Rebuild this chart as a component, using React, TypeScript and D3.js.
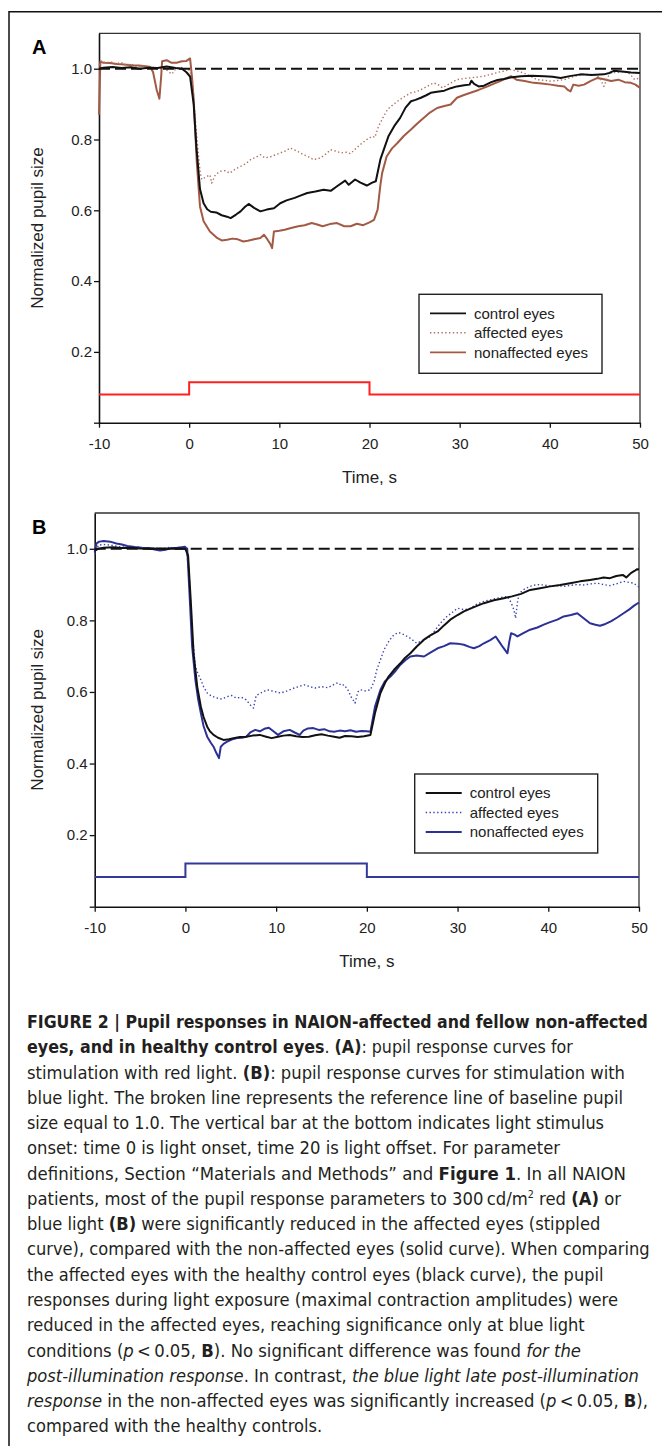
import React, { useEffect, useRef } from 'react';
import * as d3 from 'd3';

type Pt = [number, number];

// axis ticks
const xTicks = [-10, 0, 10, 20, 30, 40, 50];
const yTicks = [0, 0.2, 0.4, 0.6, 0.8, 1.0];
const legendLabels = ['control eyes', 'affected eyes', 'nonaffected eyes'];

// light stimulus trace (step after each time)
const stimTimes = [-10, 0, 20, 50];
const stimLevelsA = [0.08, 0.114, 0.08, 0.08];
const stimLevelsB = [0.083, 0.121, 0.083, 0.083];

// panel A, red light
const controlA: Pt[] = [
  [-10, 1.0], [-9.5, 1.003], [-8.5, 1.005], [-7.5, 1.002], [-6.5, 1.004], [-5.5, 1.0], [-4.5, 1.003],
  [-3.5, 1.002], [-2.5, 1.006], [-1.5, 1.002], [-0.8, 1.0], [-0.3, 0.99], [0.1, 0.978], [0.5, 0.9],
  [0.8, 0.78], [1.2, 0.66], [1.6, 0.62], [2.0, 0.603], [2.4, 0.596], [3.0, 0.594], [3.6, 0.586],
  [4.2, 0.582], [4.6, 0.578], [5.2, 0.588], [5.7, 0.597], [6.2, 0.61], [6.6, 0.618], [7.2, 0.607],
  [7.9, 0.597], [8.6, 0.602], [9.4, 0.606], [10.1, 0.62], [10.8, 0.628], [11.7, 0.635], [12.4, 0.642],
  [13.1, 0.649], [14.0, 0.653], [14.9, 0.658], [15.7, 0.655], [16.4, 0.668], [17.3, 0.684], [17.7, 0.672],
  [18.4, 0.687], [19.0, 0.678], [19.7, 0.67], [20.3, 0.678], [20.7, 0.682], [21.2, 0.743], [21.7, 0.78],
  [22.1, 0.809], [22.8, 0.84], [23.4, 0.861], [24.0, 0.89], [24.6, 0.908], [25.1, 0.912], [25.7, 0.918],
  [26.3, 0.925], [26.8, 0.932], [27.5, 0.935], [28.3, 0.938], [29.0, 0.945], [29.7, 0.95], [30.5, 0.953],
  [31.1, 0.955], [31.3, 0.966], [31.6, 0.957], [32.1, 0.95], [32.7, 0.952], [33.5, 0.962], [34.2, 0.968],
  [34.9, 0.971], [35.8, 0.976], [36.8, 0.979], [38.0, 0.98], [39.4, 0.979], [40.3, 0.977], [41.2, 0.974],
  [42.2, 0.979], [43.4, 0.984], [44.6, 0.982], [46.0, 0.984], [46.6, 0.988], [47.1, 0.994], [48.0, 0.992],
  [49.0, 0.989], [50, 0.988],
];

const affectedA: Pt[] = [
  [-10, 1.01], [-9.7, 1.022], [-9.2, 1.016], [-8.7, 1.02], [-8.2, 1.012], [-7.6, 1.018], [-7.0, 1.01],
  [-6.4, 1.013], [-5.8, 1.005], [-5.2, 1.009], [-4.6, 1.0], [-4.0, 1.004], [-3.4, 0.998], [-2.8, 1.003],
  [-2.2, 0.99], [-1.9, 0.985], [-1.5, 1.0], [-0.9, 1.004], [-0.4, 1.0], [0.1, 0.995], [0.4, 0.95],
  [0.8, 0.82], [1.2, 0.71], [1.4, 0.687], [1.9, 0.695], [2.3, 0.7], [2.5, 0.677], [2.9, 0.7], [3.4, 0.71],
  [4.0, 0.712], [4.5, 0.705], [5.1, 0.716], [5.7, 0.724], [6.3, 0.732], [6.8, 0.743], [7.4, 0.75],
  [7.9, 0.757], [8.4, 0.748], [9.1, 0.752], [10.1, 0.762], [10.7, 0.768], [11.2, 0.776], [11.9, 0.768],
  [12.7, 0.757], [13.3, 0.75], [13.8, 0.743], [14.6, 0.748], [15.2, 0.76], [15.7, 0.771], [16.3, 0.767],
  [16.8, 0.762], [17.4, 0.764], [17.9, 0.76], [18.5, 0.775], [19.0, 0.786], [19.7, 0.8], [20.3, 0.809],
  [20.6, 0.806], [21.0, 0.837], [21.5, 0.862], [22.0, 0.885], [22.6, 0.898], [23.1, 0.908], [23.8, 0.92],
  [24.6, 0.932], [25.2, 0.935], [25.7, 0.941], [26.4, 0.95], [27.1, 0.96], [27.6, 0.955], [28.1, 0.946],
  [28.9, 0.958], [29.7, 0.969], [30.4, 0.972], [31.2, 0.974], [32.1, 0.977], [32.7, 0.979], [33.6, 0.985],
  [34.3, 0.99], [34.9, 0.993], [35.6, 0.998], [36.3, 0.994], [37.1, 0.988], [37.9, 0.978], [38.6, 0.969],
  [39.4, 0.967], [40.1, 0.965], [40.9, 0.967], [41.6, 0.969], [42.4, 0.976], [43.1, 0.981], [43.8, 0.984],
  [44.9, 0.984], [45.5, 0.975], [46.0, 0.95], [46.4, 0.976], [46.8, 0.988], [47.5, 0.99], [48.3, 0.993],
  [48.9, 0.985], [49.4, 0.969], [50, 0.974],
];

const nonaffectedA: Pt[] = [
  [-10, 0.87], [-9.85, 1.02], [-9.5, 1.017], [-8.8, 1.016], [-8.0, 1.013], [-7.2, 1.012], [-6.4, 1.01],
  [-5.6, 1.009], [-4.8, 1.007], [-4.3, 1.005], [-4.0, 0.99], [-3.6, 0.94], [-3.3, 0.915], [-3.1, 0.98],
  [-3.0, 1.021], [-2.5, 1.024], [-2.0, 1.017], [-1.4, 1.017], [-0.8, 1.021], [-0.3, 1.022], [0.1, 1.029],
  [0.3, 0.98], [0.48, 0.922], [0.85, 0.734], [1.2, 0.611], [1.6, 0.569], [2.3, 0.54], [3.1, 0.522],
  [3.6, 0.515], [4.2, 0.517], [4.8, 0.52], [5.4, 0.518], [6.0, 0.512], [6.5, 0.514], [7.2, 0.518],
  [7.9, 0.522], [8.3, 0.531], [8.7, 0.517], [9.0, 0.505], [9.2, 0.493], [9.4, 0.54], [10.0, 0.542],
  [10.6, 0.545], [11.3, 0.55], [12.1, 0.555], [12.8, 0.558], [13.6, 0.564], [14.2, 0.56], [14.8, 0.555],
  [15.6, 0.561], [16.4, 0.564], [17.2, 0.555], [17.9, 0.555], [18.6, 0.562], [19.3, 0.558], [20.0, 0.566],
  [20.5, 0.573], [20.9, 0.602], [21.2, 0.67], [21.4, 0.705], [21.9, 0.752], [22.5, 0.775], [23.1, 0.79],
  [23.8, 0.81], [24.6, 0.828], [25.3, 0.845], [26.0, 0.861], [26.7, 0.876], [27.5, 0.889], [28.2, 0.894],
  [29.0, 0.899], [29.7, 0.918], [30.4, 0.925], [31.2, 0.932], [32.1, 0.94], [33.1, 0.95], [33.8, 0.958],
  [34.5, 0.965], [35.1, 0.972], [35.7, 0.979], [36.3, 0.969], [37.2, 0.965], [38.2, 0.96], [39.1, 0.958],
  [40.1, 0.955], [40.9, 0.952], [41.6, 0.95], [42.0, 0.94], [42.3, 0.936], [42.6, 0.955], [43.2, 0.952],
  [43.8, 0.955], [44.5, 0.965], [45.3, 0.974], [46.0, 0.97], [46.8, 0.965], [47.6, 0.969], [48.3, 0.962],
  [49.0, 0.96], [49.5, 0.955], [50, 0.946],
];

// panel B, blue light
const controlB: Pt[] = [
  [-10, 0.995], [-9.6, 1.0], [-9, 1.003], [-8, 1.004], [-7, 1.002], [-6, 1.003], [-5, 1.001], [-4, 1.0],
  [-3, 1.001], [-2, 1.0], [-1, 1.001], [0, 1.0], [0.3, 0.98], [0.6, 0.85], [0.9, 0.708], [1.3, 0.615],
  [1.7, 0.559], [2.0, 0.53], [2.4, 0.503], [2.7, 0.49], [3.1, 0.48], [3.6, 0.472], [4.2, 0.466],
  [4.8, 0.468], [5.3, 0.471], [6.0, 0.474], [6.7, 0.475], [7.4, 0.478], [8.2, 0.48], [8.9, 0.475],
  [9.5, 0.471], [10.2, 0.475], [10.8, 0.478], [11.5, 0.48], [12.2, 0.476], [12.9, 0.474], [13.6, 0.475],
  [14.3, 0.479], [15.0, 0.482], [15.7, 0.478], [16.4, 0.475], [17.0, 0.472], [17.6, 0.477], [18.3, 0.476],
  [19.0, 0.474], [19.7, 0.476], [20.4, 0.48], [20.9, 0.541], [21.5, 0.597], [22.0, 0.625], [22.4, 0.643],
  [23.0, 0.662], [23.7, 0.68], [24.2, 0.695], [24.8, 0.708], [25.5, 0.727], [26.3, 0.746], [27.0, 0.758],
  [27.8, 0.769], [28.5, 0.786], [29.2, 0.802], [30.0, 0.815], [30.7, 0.825], [31.8, 0.837], [32.9, 0.848],
  [34.0, 0.856], [35.1, 0.862], [36.0, 0.867], [37.0, 0.874], [38.0, 0.885], [39.1, 0.89], [40.2, 0.895],
  [41.3, 0.899], [42.4, 0.904], [43.5, 0.909], [44.6, 0.913], [45.4, 0.916], [46.1, 0.92], [46.8, 0.918],
  [47.5, 0.924], [48.2, 0.927], [48.6, 0.92], [49.1, 0.932], [49.5, 0.938], [49.8, 0.943], [50, 0.942],
];

const affectedB: Pt[] = [
  [-10, 0.985], [-9.6, 1.01], [-9.0, 1.012], [-8.2, 1.01], [-7.4, 1.006], [-6.6, 1.004], [-5.8, 1.003],
  [-5.0, 1.005], [-4.2, 1.0], [-3.4, 1.002], [-2.6, 1.0], [-1.8, 1.004], [-1.0, 1.0], [-0.3, 1.002],
  [0.1, 1.005], [0.4, 0.93], [0.8, 0.75], [1.1, 0.671], [1.4, 0.65], [1.7, 0.634], [2.0, 0.615],
  [2.4, 0.597], [2.9, 0.588], [3.5, 0.583], [4.0, 0.58], [4.6, 0.587], [5.1, 0.59], [5.6, 0.583],
  [6.2, 0.585], [6.7, 0.578], [7.1, 0.565], [7.5, 0.555], [7.8, 0.59], [8.3, 0.597], [9.0, 0.606],
  [9.7, 0.602], [10.5, 0.597], [11.2, 0.603], [12.0, 0.611], [12.6, 0.616], [13.1, 0.62], [13.7, 0.615],
  [14.3, 0.611], [15.0, 0.615], [15.7, 0.612], [16.3, 0.62], [16.8, 0.626], [17.2, 0.618], [17.5, 0.62],
  [17.9, 0.606], [18.3, 0.585], [18.7, 0.569], [19.0, 0.6], [19.3, 0.606], [19.8, 0.603], [20.4, 0.606],
  [20.8, 0.63], [21.1, 0.662], [21.5, 0.69], [21.9, 0.718], [22.5, 0.745], [23.0, 0.76], [23.5, 0.766],
  [24.1, 0.76], [24.8, 0.75], [25.5, 0.736], [26.2, 0.745], [27.0, 0.755], [27.6, 0.775], [28.1, 0.792],
  [28.8, 0.81], [29.4, 0.822], [30.0, 0.834], [30.7, 0.83], [31.3, 0.832], [32.1, 0.845], [32.9, 0.853],
  [33.7, 0.858], [34.4, 0.862], [35.0, 0.865], [35.5, 0.867], [35.9, 0.85], [36.2, 0.83], [36.4, 0.806],
  [36.6, 0.85], [36.8, 0.876], [37.4, 0.888], [38.0, 0.895], [38.7, 0.9], [39.5, 0.899], [40.3, 0.895],
  [41.0, 0.897], [41.7, 0.895], [42.5, 0.898], [43.2, 0.9], [43.9, 0.899], [44.7, 0.902], [45.4, 0.904],
  [46.1, 0.9], [46.8, 0.897], [47.6, 0.903], [48.3, 0.909], [48.9, 0.906], [49.4, 0.904], [50, 0.893],
];

const nonaffectedB: Pt[] = [
  [-10, 0.99], [-9.8, 1.015], [-9.5, 1.02], [-9.0, 1.022], [-8.3, 1.02], [-7.6, 1.015], [-7.0, 1.012],
  [-6.4, 1.008], [-5.6, 1.005], [-4.8, 1.003], [-4.0, 1.002], [-3.4, 0.998], [-2.8, 0.995], [-2.2, 0.997],
  [-1.6, 1.002], [-1.0, 1.002], [-0.5, 1.004], [-0.1, 1.006], [0.2, 1.0], [0.5, 0.85], [0.74, 0.727],
  [1.1, 0.634], [1.4, 0.58], [1.7, 0.541], [2.0, 0.505], [2.4, 0.475], [2.8, 0.458], [3.1, 0.447],
  [3.4, 0.43], [3.7, 0.415], [3.9, 0.447], [4.2, 0.455], [4.6, 0.461], [5.1, 0.467], [5.7, 0.471],
  [6.2, 0.472], [6.7, 0.475], [7.2, 0.488], [7.7, 0.494], [8.2, 0.49], [8.7, 0.497], [9.2, 0.5],
  [9.7, 0.49], [10.2, 0.48], [10.8, 0.49], [11.5, 0.494], [12.1, 0.486], [12.6, 0.48], [13.0, 0.492],
  [13.5, 0.498], [14.1, 0.499], [14.7, 0.494], [15.3, 0.496], [15.9, 0.49], [16.4, 0.489], [17.0, 0.492],
  [17.6, 0.49], [18.2, 0.493], [18.8, 0.489], [19.4, 0.491], [20.0, 0.49], [20.4, 0.489], [20.9, 0.559],
  [21.5, 0.606], [22.0, 0.63], [22.6, 0.643], [23.2, 0.66], [23.7, 0.676], [24.3, 0.69], [24.8, 0.699],
  [25.5, 0.702], [26.3, 0.699], [27.0, 0.71], [27.8, 0.722], [28.5, 0.728], [29.2, 0.736], [30.0, 0.735],
  [30.7, 0.732], [31.3, 0.726], [31.8, 0.722], [32.4, 0.728], [32.9, 0.736], [33.6, 0.745], [34.2, 0.755],
  [34.6, 0.74], [35.0, 0.725], [35.5, 0.708], [35.7, 0.74], [35.9, 0.764], [36.3, 0.76], [36.6, 0.755],
  [37.3, 0.765], [38.0, 0.774], [38.8, 0.78], [39.5, 0.788], [40.2, 0.795], [41.0, 0.802], [41.7, 0.811],
  [42.5, 0.815], [43.2, 0.82], [43.9, 0.806], [44.6, 0.792], [45.2, 0.788], [45.7, 0.785], [46.3, 0.79],
  [46.9, 0.797], [47.6, 0.808], [48.3, 0.82], [48.9, 0.83], [49.5, 0.842], [50, 0.85],
];

// caption: [text, style] segments per line, plus where each line ends
type Seg = [string, string];
const captionLines: Seg[][] = [
  [['FIGURE 2 | Pupil responses in NAION-affected and fellow non-affected', 'b']],
  [['eyes, and in healthy control eyes', 'b'], ['. ', ''], ['(A)', 'b'], [': pupil response curves for', '']],
  [['stimulation with red light. ', ''], ['(B)', 'b'], [': pupil response curves for stimulation with', '']],
  [['blue light. The broken line represents the reference line of baseline pupil', '']],
  [['size equal to 1.0. The vertical bar at the bottom indicates light stimulus', '']],
  [['onset: time 0 is light onset, time 20 is light offset. For parameter', '']],
  [['definitions, Section \u201CMaterials and Methods\u201D and ', ''], ['Figure 1', 'b'], ['. In all NAION', '']],
  [['patients, most of the pupil response parameters to 300\u2009cd/m', ''], ['2', 'sup'], [' red ', ''], ['(A)', 'b'], [' or', '']],
  [['blue light ', ''], ['(B)', 'b'], [' were significantly reduced in the affected eyes (stippled', '']],
  [['curve), compared with the non-affected eyes (solid curve). When comparing', '']],
  [['the affected eyes with the healthy control eyes (black curve), the pupil', '']],
  [['responses during light exposure (maximal contraction amplitudes) were', '']],
  [['reduced in the affected eyes, reaching significance only at blue light', '']],
  [['conditions (', ''], ['p', 'i'], ['\u2009<\u20090.05, ', ''], ['B', 'b'], ['). No significant difference was found ', ''], ['for the', 'i']],
  [['post-illumination response', 'i'], ['. In contrast, ', ''], ['the blue light late post-illumination', 'i']],
  [['response', 'i'], [' in the non-affected eyes was significantly increased (', ''], ['p', 'i'], ['\u2009<\u20090.05, ', ''], ['B', 'b'], ['),', '']],
  [['compared with the healthy controls.', '']],
];
const captionEnds = [648, 573, 625, 623, 604, 560, 626, 621, 600, 650, 604, 618, 585, 581, 639, 648, 322];

const FONT = "'Liberation Sans', Arial, Helvetica, sans-serif";
const CAPTION_FONT = "'Liberation Sans Narrow', 'DejaVu Sans Condensed', 'Liberation Sans', sans-serif";

const panels = [
  {
    label: 'A', left: 99, right: 640, top: 33.3, bottom: 422.7,
    series: [nonaffectedA, affectedA, controlA],
    colors: ['#a25a45', '#b0705c', '#111111'],
    stim: stimLevelsA, stimColor: '#ff2020',
  },
  {
    label: 'B', left: 94.7, right: 639, top: 513, bottom: 906.7,
    series: [nonaffectedB, affectedB, controlB],
    colors: ['#2c3196', '#3c42b4', '#111111'],
    stim: stimLevelsB, stimColor: '#33399a',
  },
];

const App = () => {
  const ref = useRef<SVGSVGElement>(null);

  useEffect(() => {
    const svg = d3.select(ref.current);
    svg.selectAll('*').remove();

    // outer figure frame
    svg.append('path')
      .attr('d', 'M9,1446V11.7H662')
      .attr('fill', 'none')
      .attr('stroke', '#111')
      .attr('stroke-width', 1.5);

    panels.forEach(p => drawPanel(svg, p));
    drawCaption(svg);
  }, []);

  const drawPanel = (svg: any, p: any) => {
    const x = d3.scaleLinear().domain([-10, 50]).range([p.left, p.right]);
    const y = d3.scaleLinear().domain([0, 1.1]).range([p.bottom, p.top]);
    const g = svg.append('g');

    // top and right frame of the plot
    g.append('path')
      .attr('d', `M${p.left},${p.top}H${p.right}V${p.bottom}`)
      .attr('fill', 'none')
      .attr('stroke', '#333')
      .attr('stroke-width', 1.3);

    const xAxis = g.append('g')
      .attr('transform', `translate(0,${p.bottom})`)
      .call(d3.axisBottom(x).tickValues(xTicks).tickSize(5).tickSizeOuter(0).tickPadding(11)
        .tickFormat((d: any) => String(d)));
    const yAxis = g.append('g')
      .attr('transform', `translate(${p.left},0)`)
      .call(d3.axisLeft(y).tickValues(yTicks).tickSize(5).tickSizeOuter(0).tickPadding(2)
        .tickFormat((d: any) => (d === 0 ? '' : d3.format('.1f')(d))));
    [xAxis, yAxis].forEach(a => {
      a.select('.domain').attr('stroke', '#111').attr('stroke-width', 1.6);
      a.selectAll('line').attr('stroke', '#111').attr('stroke-width', 1.3);
      a.selectAll('text').attr('fill', '#222').style('font-family', FONT).style('font-size', '15px');
    });

    g.append('text')
      .attr('x', (p.left + p.right) / 2)
      .attr('y', p.bottom + 60)
      .attr('text-anchor', 'middle')
      .style('font-family', FONT).style('font-size', '17px').attr('fill', '#222')
      .text('Time, s');

    g.append('text')
      .attr('transform', `translate(37,${(p.top + p.bottom) / 2}) rotate(-90)`)
      .attr('text-anchor', 'middle')
      .attr('dy', '0.35em')
      .style('font-family', FONT).style('font-size', '17px').attr('fill', '#222')
      .text('Normalized pupil size');

    g.append('text')
      .attr('x', 32)
      .attr('y', p.top + 21)
      .style('font-family', FONT).style('font-size', '20px').style('font-weight', 'bold')
      .text(p.label);

    // stimulus bar
    const stimPts: Pt[] = stimTimes.map((t, i) => [t, p.stim[i]]);
    g.append('path')
      .datum(stimPts)
      .attr('fill', 'none')
      .attr('stroke', p.stimColor)
      .attr('stroke-width', 2)
      .attr('d', d3.line<Pt>().x(d => x(d[0])).y(d => y(d[1])).curve(d3.curveStepAfter));

    const line = d3.line<Pt>().x(d => x(d[0])).y(d => y(d[1]));
    const widths = [2, 1.4, 2];
    p.series.forEach((s: Pt[], i: number) => {
      g.append('path')
        .datum(s)
        .attr('fill', 'none')
        .attr('stroke', p.colors[i])
        .attr('stroke-width', widths[i])
        .attr('stroke-linejoin', 'round')
        .attr('stroke-dasharray', i === 1 ? '1.4,2.4' : null)
        .attr('d', line);
    });

    // baseline reference at 1.0
    g.append('line')
      .attr('x1', x(-10)).attr('x2', x(50))
      .attr('y1', y(1)).attr('y2', y(1))
      .attr('stroke', '#111')
      .attr('stroke-width', 2)
      .attr('stroke-dasharray', '11,5');

    // legend
    const lg = g.append('g').attr('transform', `translate(${p.left + 320},${p.top + 261})`);
    lg.append('rect')
      .attr('width', 183).attr('height', 79)
      .attr('fill', '#fff').attr('stroke', '#222').attr('stroke-width', 1.4);
    const legendColors = [p.colors[2], p.colors[1], p.colors[0]];
    legendLabels.forEach((lab, i) => {
      const ly = 19 + i * 19.5;
      lg.append('line')
        .attr('x1', 11).attr('x2', 47).attr('y1', ly).attr('y2', ly)
        .attr('stroke', legendColors[i])
        .attr('stroke-width', i === 1 ? 1.4 : 1.8)
        .attr('stroke-dasharray', i === 1 ? '1.4,2.4' : null);
      lg.append('text')
        .attr('x', 55).attr('y', ly).attr('dy', '0.35em')
        .style('font-family', FONT).style('font-size', '15px').attr('fill', '#222')
        .text(lab);
    });
  };

  const drawCaption = (svg: any) => {
    const left = 27;
    const baseSize = 19.5;
    const texts: any[] = [];
    captionLines.forEach((segs, i) => {
      const t = svg.append('text')
        .attr('x', left)
        .attr('y', 1028 + i * 25.27)
        .style('font-family', CAPTION_FONT)
        .style('font-size', baseSize + 'px')
        .attr('fill', '#231f20');
      let raised = false;
      segs.forEach(([txt, st]) => {
        const ts = t.append('tspan').text(txt);
        if (st === 'b') ts.style('font-weight', 'bold');
        if (st === 'i') ts.style('font-style', 'italic');
        if (st === 'sup') {
          ts.attr('dy', -7).style('font-size', '0.58em');
          raised = true;
        } else if (raised) {
          ts.attr('dy', 7);
          raised = false;
        }
      });
      texts.push(t);
    });

    // one shared font size taken from the reference line widths;
    // lines that come out too long are shrunk, short ones stretched a little
    const ratios = texts.map((t, i) => (captionEnds[i] - left) / t.node().getComputedTextLength());
    const size = baseSize * (d3.median(ratios) as number);
    texts.forEach((t, i) => {
      t.style('font-size', size + 'px');
      const target = captionEnds[i] - left;
      const natural = t.node().getComputedTextLength();
      if (natural > target) {
        t.style('font-size', (size * target / natural) + 'px');
      } else if (target - natural > 1) {
        t.attr('textLength', target).attr('lengthAdjust', 'spacingAndGlyphs');
      }
    });
  };

  return (
    <div className="figure-wrapper">
      <svg ref={ref} width={662} height={1446}
        style={{ position: 'absolute', left: 0, top: 0, background: '#fff' }} />
    </div>
  );
};

export default App;
